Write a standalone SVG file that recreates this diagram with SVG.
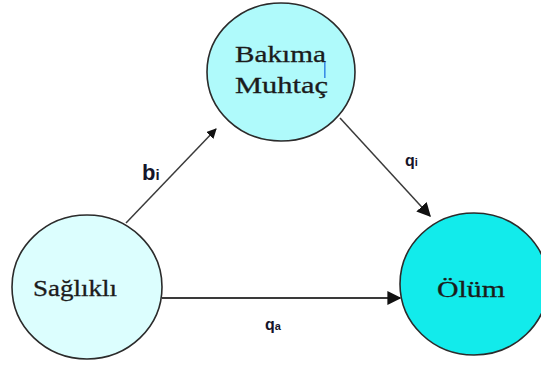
<svg xmlns="http://www.w3.org/2000/svg" width="541" height="367" viewBox="0 0 541 367">
  <style>
    .node { stroke: #2b2b2b; stroke-width: 1.6; }
    .name { font-family: "Liberation Serif", "Times New Roman", serif; font-size: 23px; fill: #1b1b1b; stroke: #1b1b1b; stroke-width: 0.3; }
    .rate { font-family: "Liberation Sans", Arial, sans-serif; font-weight: bold; fill: #15152a; }
    .edge { stroke: #3a3a3a; fill: none; }
  </style>
  <defs>
    <marker id="head" viewBox="0 0 10 10" refX="9" refY="5" markerWidth="10" markerHeight="10" markerUnits="userSpaceOnUse" orient="auto">
      <path d="M0,0 L10,5 L0,10 Z" fill="#111"/>
    </marker>
    <marker id="headBig" viewBox="0 0 10 10" refX="9" refY="5" markerWidth="14" markerHeight="14" markerUnits="userSpaceOnUse" orient="auto">
      <path d="M0,0 L10,5 L0,10 Z" fill="#111"/>
    </marker>
  </defs>

  <!-- connectors -->
  <g id="connectors">
    <line class="edge" x1="126" y1="223" x2="216" y2="129" stroke-width="1.5" marker-end="url(#head)"/>
    <line class="edge" x1="340" y1="118" x2="430" y2="216" stroke-width="1.5" marker-end="url(#headBig)"/>
    <line class="edge" x1="162" y1="298" x2="400" y2="298" stroke-width="2.2" marker-end="url(#headBig)"/>
    <text class="rate" x="142" y="180" font-size="22">b<tspan font-size="15">i</tspan></text>
    <text class="rate" x="405" y="166" font-size="16">q<tspan font-size="11">i</tspan></text>
    <text class="rate" x="265" y="330" font-size="16">q<tspan font-size="11">a</tspan></text>
  </g>

  <!-- states -->
  <g id="bakima-muhtac">
    <ellipse class="node" cx="281" cy="72" rx="74" ry="69" fill="#affafb"/>
    <text class="name" x="235" y="62" textLength="91" lengthAdjust="spacingAndGlyphs">Bakıma</text>
    <text class="name" x="235" y="93" textLength="93" lengthAdjust="spacingAndGlyphs">Muhtaç</text>
    <rect x="324" y="62" width="1.6" height="16" fill="#3a8ee6"/>
  </g>

  <g id="saglikli">
    <ellipse class="node" cx="87" cy="287" rx="75" ry="72" fill="#dcfefe"/>
    <text class="name" x="33" y="296" textLength="84" lengthAdjust="spacingAndGlyphs">Sağlıklı</text>
  </g>

  <g id="olum">
    <ellipse class="node" cx="474" cy="284" rx="74" ry="71" fill="#12ebeb"/>
    <text class="name" x="437" y="297" textLength="68" lengthAdjust="spacingAndGlyphs" fill="#0c2a35">Ölüm</text>
  </g>
</svg>
